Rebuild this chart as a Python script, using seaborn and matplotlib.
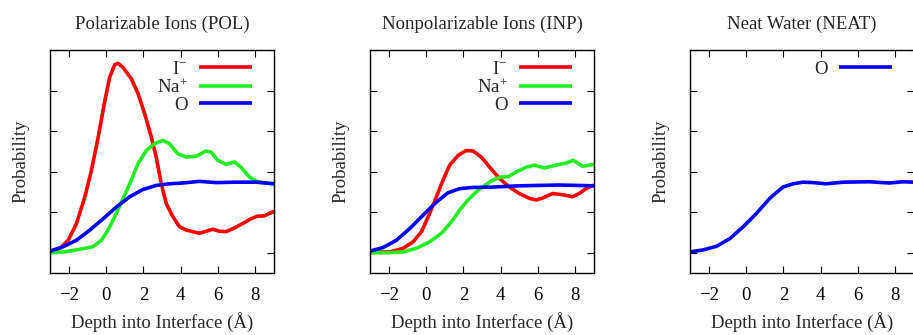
import numpy as np
import pandas as pd
import matplotlib
matplotlib.use("Agg")
import matplotlib.pyplot as plt
import seaborn as sns

# ---- data (y in arbitrary probability units) ----
pol_i_x = [-3.0, -2.47, -2.02, -1.58, -1.13, -0.78, -0.42, -0.06, 0.2, 0.47, 0.65, 0.91, 1.36, 1.72, 2.07, 2.43, 2.69, 2.96, 3.23, 3.58, 3.94, 4.3, 4.65, 5.0, 5.36, 5.72, 6.07, 6.43, 6.88, 7.32, 7.77, 8.12, 8.48, 9.0]
pol_i_y = [0.02, 0.11, 0.31, 0.72, 1.38, 2.03, 2.85, 3.75, 4.33, 4.64, 4.67, 4.57, 4.29, 3.92, 3.43, 2.85, 2.36, 1.70, 1.21, 0.89, 0.64, 0.56, 0.52, 0.48, 0.53, 0.58, 0.53, 0.52, 0.61, 0.72, 0.84, 0.90, 0.91, 1.02]
pol_na_x = [-3.0, -2.29, -1.58, -0.69, -0.24, 0.11, 0.47, 0.83, 1.27, 1.72, 2.16, 2.6, 3.05, 3.4, 3.85, 4.3, 4.83, 5.36, 5.63, 5.99, 6.43, 6.88, 7.23, 7.68, 8.12, 8.57, 9.0]
pol_na_y = [0.0, 0.02, 0.07, 0.15, 0.31, 0.56, 0.89, 1.25, 1.70, 2.20, 2.52, 2.69, 2.77, 2.69, 2.44, 2.36, 2.38, 2.51, 2.48, 2.28, 2.18, 2.24, 2.11, 1.87, 1.75, 1.72, 1.70]
pol_o_x = [-3.0, -2.29, -1.58, -0.86, -0.15, 0.56, 1.27, 1.98, 2.69, 3.4, 4.12, 5.0, 5.9, 6.96, 8.03, 9.0]
pol_o_y = [0.04, 0.15, 0.31, 0.56, 0.84, 1.13, 1.38, 1.56, 1.66, 1.70, 1.72, 1.76, 1.73, 1.74, 1.74, 1.70]

inp_i_x = [-3.0, -1.93, -1.22, -0.69, -0.24, 0.2, 0.56, 0.91, 1.27, 1.72, 2.16, 2.52, 2.96, 3.41, 3.94, 4.47, 5.0, 5.54, 5.9, 6.25, 6.79, 7.32, 7.85, 8.21, 8.57, 9.0]
inp_i_y = [0.01, 0.02, 0.11, 0.27, 0.52, 0.97, 1.38, 1.79, 2.16, 2.40, 2.52, 2.51, 2.36, 2.11, 1.83, 1.62, 1.46, 1.34, 1.30, 1.35, 1.46, 1.43, 1.38, 1.46, 1.58, 1.67]
inp_na_x = [-3.0, -1.93, -1.22, -0.51, 0.2, 0.83, 1.36, 1.8, 2.25, 2.69, 3.14, 3.58, 4.03, 4.38, 4.83, 5.36, 5.81, 6.34, 6.96, 7.5, 7.89, 8.39, 9.0]
inp_na_y = [0.0, 0.0, 0.02, 0.11, 0.27, 0.48, 0.76, 1.05, 1.30, 1.50, 1.66, 1.79, 1.87, 1.87, 1.99, 2.11, 2.16, 2.09, 2.16, 2.21, 2.28, 2.13, 2.18]
inp_o_x = [-3.0, -2.29, -1.58, -0.86, -0.15, 0.56, 1.18, 1.8, 2.52, 3.58, 5.0, 7.14, 9.0]
inp_o_y = [0.04, 0.13, 0.31, 0.60, 0.93, 1.25, 1.48, 1.58, 1.61, 1.62, 1.65, 1.67, 1.65]

neat_o_x = [-3.0, -2.29, -1.58, -0.86, -0.15, 0.56, 1.27, 1.98, 2.52, 3.05, 3.58, 4.3, 5.19, 6.61, 7.68, 8.39, 9.0]
neat_o_y = [0.02, 0.07, 0.16, 0.35, 0.64, 0.97, 1.34, 1.62, 1.70, 1.74, 1.73, 1.70, 1.74, 1.75, 1.72, 1.75, 1.74]

titles = ["Polarizable Ions (POL)", "Nonpolarizable Ions (INP)", "Neat Water (NEAT)"]
species_labels = {"I": "I$^{-}$", "Na": "Na$^{+}$", "O": "O"}
x_ticks = [-2, 0, 2, 4, 6, 8]
y_ticks = [0, 1, 2, 3, 4, 5]

colors = {"I$^{-}$": "#ff0000", "Na$^{+}$": "#22ee22", "O": "#0000ff"}

def frame(xs, ys, sp):
    return pd.DataFrame({"x": xs, "y": ys, "species": species_labels[sp]})

panels = [
    pd.concat([frame(pol_i_x, pol_i_y, "I"), frame(pol_na_x, pol_na_y, "Na"), frame(pol_o_x, pol_o_y, "O")]),
    pd.concat([frame(inp_i_x, inp_i_y, "I"), frame(inp_na_x, inp_na_y, "Na"), frame(inp_o_x, inp_o_y, "O")]),
    frame(neat_o_x, neat_o_y, "O"),
]

sns.set_style("ticks")
plt.rcParams["font.family"] = ["Liberation Serif", "DejaVu Serif"]
plt.rcParams["mathtext.fontset"] = "custom"
plt.rcParams["mathtext.rm"] = "Liberation Serif"
plt.rcParams["mathtext.it"] = "Liberation Serif"
plt.rcParams["mathtext.default"] = "regular"
FS = 13.5
plt.rcParams["font.size"] = FS

fig = plt.figure(figsize=(9.13, 3.35), dpi=100)
lefts = [50 / 913, 370 / 913, 690 / 913]
for i, (df, title) in enumerate(zip(panels, titles)):
    ax = fig.add_axes([lefts[i], 62 / 335, 224 / 913, 223 / 335])
    sns.lineplot(data=df, x="x", y="y", hue="species", palette=colors, sort=False,
                 estimator=None, linewidth=2.6, ax=ax, legend=True)
    for ln in ax.get_lines():
        ln.set_solid_joinstyle("round")
        ln.set_solid_capstyle("butt")
    ax.set_xlim(-3, 9)
    ax.set_ylim(-0.5, 5)
    ax.set_xticks(x_ticks)
    ax.set_xticklabels([f"{t}".replace("-", "\u2212") for t in x_ticks])
    ax.set_yticks(y_ticks)
    ax.set_yticklabels([])
    ax.tick_params(direction="in", length=5, width=0.8, top=True, right=True,
                   labelsize=FS, pad=10, colors="black")
    for s in ax.spines.values():
        s.set_linewidth(1.0)
        s.set_color("black")
    ax.set_xlabel("Depth into Interface (\u00c5)", fontsize=FS, labelpad=6)
    ax.set_ylabel("Probability", fontsize=FS, labelpad=5)
    ax.set_title(title, fontsize=FS, pad=15)
    leg = ax.legend(loc="upper right", bbox_to_anchor=(1 - 20 / 224, 1 - 9 / 223),
                    frameon=False, markerfirst=False,
                    handlelength=2.85, handletextpad=0.6, labelspacing=0.0,
                    borderaxespad=0.0, borderpad=0.1, fontsize=FS)
    for h in leg.legend_handles:
        h.set_linewidth(2.6)

fig.savefig("out.png", dpi=100)
